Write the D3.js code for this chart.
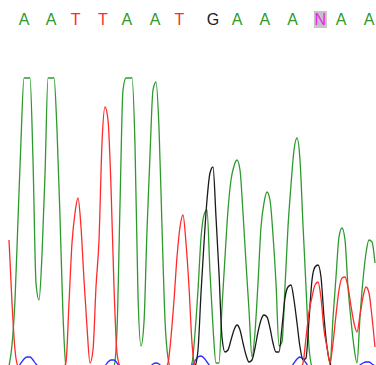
<!DOCTYPE html>
<html>
<head>
<meta charset="utf-8">
<script src="https://cdn.jsdelivr.net/npm/d3@7"></script>
<style>
  html, body { margin: 0; padding: 0; background: #fff; }
  svg { display: block; }
</style>
</head>
<body>
<script>
// Sequencing trace: one intensity sample every scan step, four dye channels.
const traceA = [10,115,340,740,1140,1550,1650,1470,1040,425,340,565,965,1460,1650,1500,1190,755,265,10,
  0,0,0,0,0,0,0,0,0,0,0,0,0,0,0,
  10,190,815,1390,1600,1650,1470,1115,365,110,230,690,1065,1390,1430,1200,705,240,50,
  0,0,0,0,0,0,0,
  25,175,390,650,765,790,475,205,25,25,305,555,790,940,1010,1040,990,775,525,290,55,180,425,705,825,880,840,665,425,110,130,405,705,915,1090,1150,1040,715,405,105,10,
  0,0,0,0,0,
  10,250,455,655,700,640,405,240,105,25,255,440,575,640,630,525];

const traceT = [640,325,90,10,
  0,0,0,0,0,0,0,0,0,0,0,0,0,0,0,
  30,325,625,775,850,705,440,205,25,90,405,640,1125,1305,1240,905,405,75,10,
  0,0,0,0,0,0,0,0,0,0,0,0,0,0,0,
  25,155,340,555,705,765,625,405,125,10,
  0,0,0,0,0,0,0,0,0,0,0,0,0,0,0,0,0,0,0,0,0,0,0,0,0,0,0,0,0,0,0,0,0,0,0,
  25,150,280,355,415,430,350,190,105,25,125,265,390,450,455,405,310,225,180,265,355,405,375,255,105];

const traceG = [0,0,0,0,0,0,0,0,0,0,0,0,0,0,0,0,0,0,0,0,0,0,0,0,0,0,0,0,0,0,0,
  0,0,0,0,0,0,0,0,0,0,0,0,0,0,0,0,0,0,0,0,0,0,0,0,0,0,0,0,0,0,0,
  10,90,375,625,840,975,1005,755,475,155,80,90,140,190,215,190,125,65,30,40,100,180,240,265,255,200,125,80,80,205,350,405,415,340,225,105,40,50,240,440,505,515,455,255,105,25,
  0,0,0,0,0,0,0,0,0,0,0,0,0,0,0];

const traceC = [0,0,0,5,25,45,55,55,40,20,5,
  0,0,0,0,0,0,0,0,0,0,0,0,0,0,0,0,0,0,0,0,0,
  10,30,40,40,25,5,
  0,0,0,0,0,0,0,0,0,
  5,20,25,20,5,
  0,0,0,0,0,0,0,0,0,
  10,35,55,60,50,30,10,
  0,0,0,0,0,0,0,0,0,0,0,0,0,0,0,0,0,0,0,0,0,0,0,0,0,0,
  5,25,45,55,45,25,5,
  0,0,0,0,0,0,0,0,0,0,0,0,0,0,0,
  5,15,25,30,30,20,10];

// Called bases and the scan position of each call.
const bases = ["A","A","T","T","A","A","T","G","A","A","A","N","A","A"];
const callScans = [5, 14, 22.2, 31.3, 39.3, 48.7, 56.8, 68, 76, 85.3, 94.5, 103.8, 110.7, 120];

const baseColor = { A: "#2e9a2e", C: "#2b2bff", G: "#1a1a1a", T: "#ff2a2a", N: "#ee22ee" };

const W = 376, H = 365;
const svg = d3.select("body").append("svg").attr("width", W).attr("height", H);

const x = d3.scaleLinear().domain([0, traceA.length - 1]).range([9, 375]);
const y = d3.scaleLinear().domain([0, 1450]).range([368, 78]).clamp(true);

const line = d3.line()
  .x((d, i) => x(i))
  .y(d => y(d))
  .curve(d3.curveMonotoneX);

const channels = [
  { key: "A", data: traceA },
  { key: "C", data: traceC },
  { key: "G", data: traceG },
  { key: "T", data: traceT }
];

svg.append("g").selectAll("path")
  .data(channels)
  .join("path")
  .attr("d", d => line(d.data))
  .attr("fill", "none")
  .attr("stroke", d => baseColor[d.key])
  .attr("stroke-width", 1.3)
  .attr("stroke-linejoin", "round");

// Base call row
const calls = bases.map((b, i) => ({ b, s: callScans[i] }));
const row = svg.append("g");

row.selectAll("rect")
  .data(calls.filter(d => d.b === "N"))
  .join("rect")
  .attr("x", d => x(d.s) - 6.5)
  .attr("y", 11)
  .attr("width", 13)
  .attr("height", 17)
  .attr("fill", "#c4c4c4");

row.selectAll("text")
  .data(calls)
  .join("text")
  .attr("x", d => x(d.s))
  .attr("y", 25)
  .attr("text-anchor", "middle")
  .attr("font-family", "'Liberation Sans', Arial, sans-serif")
  .attr("font-size", 16)
  .attr("fill", d => baseColor[d.b])
  .text(d => d.b);
</script>
</body>
</html>
